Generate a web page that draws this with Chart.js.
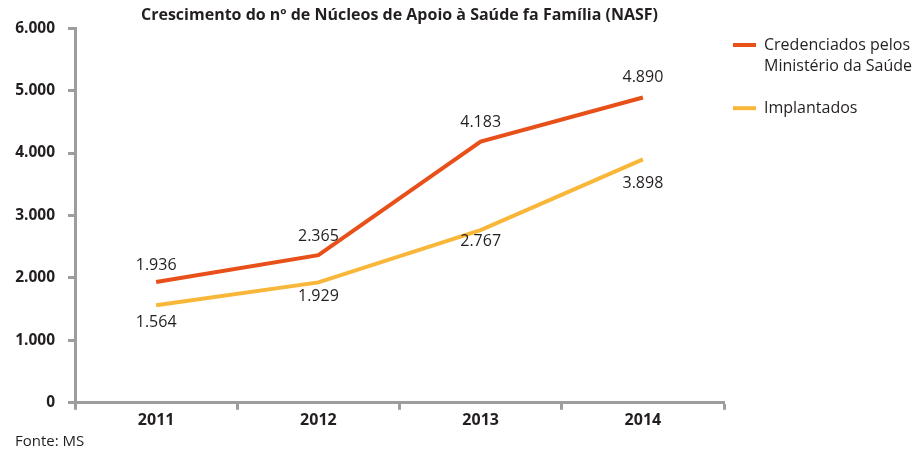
<!DOCTYPE html>
<html><head><meta charset="utf-8">
<script src="https://cdn.jsdelivr.net/npm/chart.js@4/dist/chart.umd.min.js"></script>
<style>html,body{margin:0;padding:0;background:#fff}#wrap{width:916px;height:451px}</style>
</head><body><div id="wrap"><canvas id="c" width="916" height="451"></canvas></div>
<script>
const categories = ['2011', '2012', '2013', '2014'];
const credenciados = [1936, 2365, 4183, 4890];
const implantados = [1564, 1929, 2767, 3898];
const seriesNames = [['Credenciados pelos', 'Ministério da Saúde'], 'Implantados'];
const yTicks = [0, 1000, 2000, 3000, 4000, 5000, 6000];
const titleText = 'Crescimento do nº de Núcleos de Apoio à Saúde fa Família (NASF)';
const sourceText = 'Fonte: MS';

const FONT = '"Open Sans"';
const ORANGE = '#E8501A';
const YELLOW = '#F9B73A';
const AXIS = '#9d9d9d';
const TEXT = '#231f20';

function fmt(v) { return String(v).replace(/\B(?=(\d{3})+(?!\d))/g, '.'); }

const layoutFix = {
  id: 'layoutFix',
  afterLayout(chart) {
    const ca = chart.chartArea;
    if (chart.titleBlock) { chart.titleBlock.left = ca.left; chart.titleBlock.right = ca.right; }
    const lg = chart.legend;
    if (lg) { lg.left = 733 - lg.options.labels.padding; lg.right = 916; lg.top = 17; }
  }
};

const valueLabels = {
  id: 'valueLabels',
  afterDatasetsDraw(chart) {
    const ctx = chart.ctx;
    ctx.save();
    ctx.font = '16px ' + FONT;
    ctx.fillStyle = TEXT;
    ctx.textAlign = 'center';
    ctx.textBaseline = 'middle';
    chart.data.datasets.forEach((ds, i) => {
      const meta = chart.getDatasetMeta(i);
      meta.data.forEach((pt, j) => {
        ctx.fillText(fmt(ds.data[j]), pt.x, pt.y + ds.labelOffsets[j]);
      });
    });
    ctx.restore();
  }
};

new Chart(document.getElementById('c'), {
  type: 'line',
  data: {
    labels: categories,
    datasets: [
      { label: seriesNames[0], data: credenciados, borderColor: ORANGE, backgroundColor: ORANGE, borderWidth: 4, pointRadius: 0, tension: 0, labelOffsets: [-16, -19, -19, -20] },
      { label: seriesNames[1], data: implantados, borderColor: YELLOW, backgroundColor: YELLOW, borderWidth: 4, pointRadius: 0, tension: 0, labelOffsets: [17, 14, 11, 24] }
    ]
  },
  options: {
    responsive: false,
    devicePixelRatio: 1,
    animation: false,
    layout: { padding: { left: 15, right: 0, top: 0, bottom: 0 } },
    plugins: {
      title: { display: true, text: titleText, color: TEXT, font: { family: FONT, size: 16, weight: 'bold' }, padding: { top: 6, bottom: 3 } },
      subtitle: { display: true, text: sourceText, position: 'bottom', align: 'start', color: TEXT, font: { family: FONT, size: 15 }, padding: { top: 2, bottom: 0 } },
      legend: {
        position: 'right', align: 'start', maxWidth: 192,
        labels: {
          boxWidth: 23, boxHeight: 4, padding: 20, color: TEXT,
          font: { family: FONT, size: 16, lineHeight: 1.35 },
          generateLabels: chart => Chart.defaults.plugins.legend.labels.generateLabels(chart).map(l => Object.assign(l, { lineWidth: 0 }))
        }
      },
      tooltip: { enabled: false }
    },
    scales: {
      x: {
        offset: true,
        grid: { offset: true, drawOnChartArea: false, drawTicks: true, tickLength: 7, tickWidth: 3, tickColor: AXIS },
        border: { color: AXIS, width: 3 },
        ticks: { color: TEXT, font: { family: FONT, size: 16, weight: 'bold' }, padding: 1 }
      },
      y: {
        min: yTicks[0], max: yTicks[yTicks.length - 1],
        afterFit: s => { s.width = 60; },
        grid: { drawOnChartArea: false, drawTicks: true, tickLength: 7, tickWidth: 3, tickColor: AXIS },
        border: { color: AXIS, width: 3 },
        ticks: { stepSize: yTicks[1] - yTicks[0], color: TEXT, font: { family: FONT, size: 15.5, weight: 'bold' }, padding: 13, callback: v => fmt(v) }
      }
    }
  },
  plugins: [layoutFix, valueLabels]
});
</script></body></html>
